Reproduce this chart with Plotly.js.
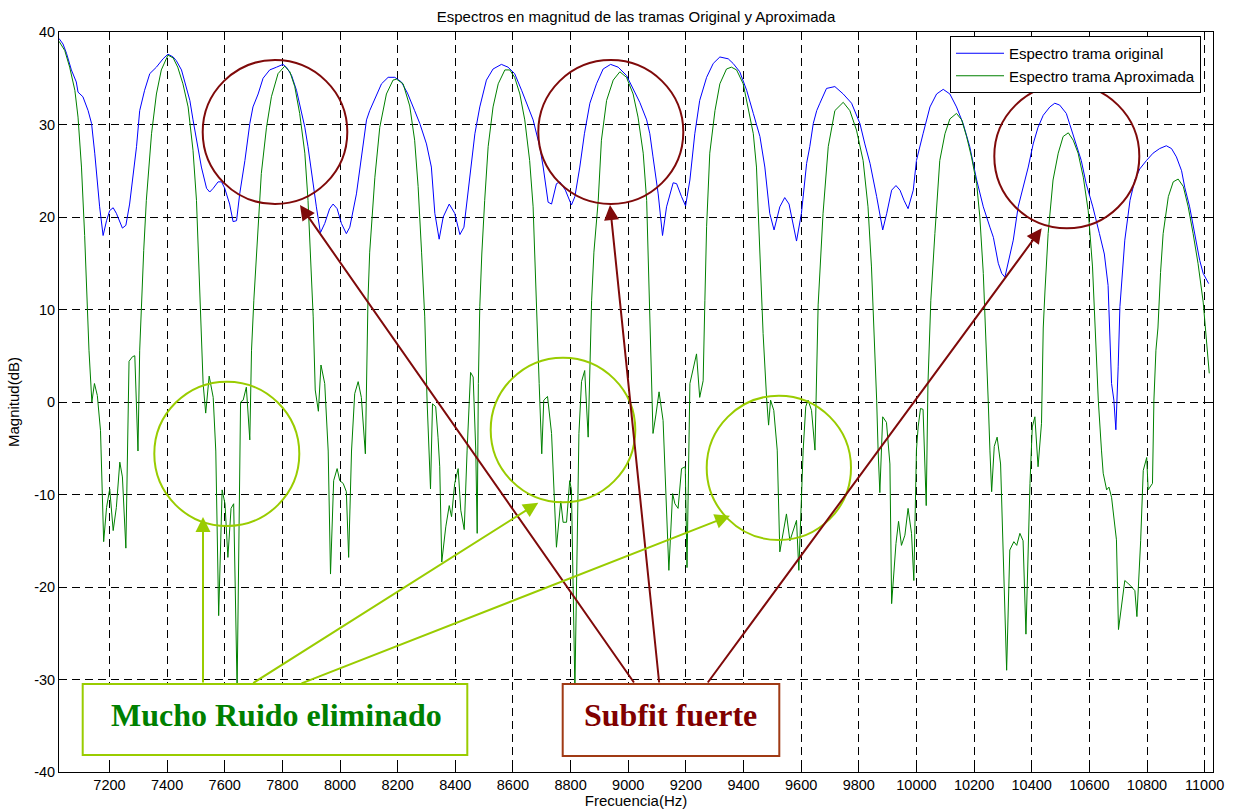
<!DOCTYPE html>
<html>
<head>
<meta charset="utf-8">
<script src="https://cdn.plot.ly/plotly-3.0.1.min.js"></script>
<style>html,body{margin:0;padding:0;background:#fff;}#chart{width:1239px;height:809px;}</style>
</head>
<body>
<div id="chart"></div>
<script>
// ---- Data ----
const freqOriginal = [7025,7039,7051,7068,7085,7091,7108,7126,7138,7149,7166,7178,7190,7201,7213,7224,7245,7257,7270,7282,7294,7305,7322,7340,7363,7386,7403,7421,7432,7450,7461,7479,7490,7502,7519,7537,7548,7560,7577,7589,7600,7617,7629,7641,7652,7670,7687,7698,7716,7733,7756,7780,7802,7814,7832,7849,7866,7878,7889,7901,7918,7932,7947,7964,7976,7990,8005,8022,8034,8057,8074,8092,8103,8127,8144,8167,8190,8213,8234,8259,8277,8300,8317,8329,8344,8358,8379,8398,8416,8430,8451,8468,8485,8508,8531,8560,8583,8606,8630,8653,8670,8693,8705,8722,8734,8751,8763,8782,8803,8815,8832,8848,8867,8890,8913,8939,8965,8994,9017,9040,9064,9075,9086,9104,9119,9133,9156,9168,9185,9199,9214,9231,9248,9272,9295,9318,9347,9364,9387,9411,9434,9457,9474,9491,9506,9526,9543,9558,9584,9601,9619,9630,9642,9654,9665,9688,9717,9746,9775,9804,9821,9839,9862,9883,9897,9914,9929,9943,9957,9971,9989,10000,10023,10047,10070,10093,10116,10139,10162,10185,10209,10232,10255,10267,10284,10296,10307,10318,10336,10353,10370,10388,10405,10422,10440,10463,10480,10497,10520,10537,10555,10572,10589,10612,10635,10652,10665,10677,10685,10692,10700,10706,10723,10741,10758,10775,10798,10821,10844,10867,10885,10902,10920,10931,10948,10966,10983,10995,11014];
const magOriginal = [39.3,38.7,37.7,35.9,34.6,33.5,33.0,31.5,30.1,26.9,21.1,18.0,19.6,20.7,21.0,20.4,18.8,19.1,21.4,24.7,27.6,31.5,33.7,35.5,36.2,37.1,37.6,37.3,36.9,35.9,34.6,32.6,30.5,28.3,25.4,23.1,22.7,23.1,23.8,23.8,23.1,21.4,19.5,19.6,22.5,26.1,30.1,31.9,33.3,35.0,35.9,36.2,36.5,36.2,35.3,33.7,31.5,29.7,27.6,24.7,21.1,18.3,19.3,20.9,21.4,20.9,19.3,18.2,18.9,22.5,26.5,30.5,31.5,33.3,34.4,35.1,35.1,34.6,33.4,31.5,30.1,27.9,25.4,20.4,17.6,20.0,21.4,20.4,18.1,18.9,24.3,29.0,31.9,34.8,36.0,36.5,36.2,35.5,33.7,31.9,30.5,27.6,25.4,21.6,21.4,23.6,23.8,22.9,21.3,22.2,25.4,29.0,32.3,34.4,36.0,36.5,36.2,35.3,33.9,32.4,30.5,29.0,26.5,22.5,18.0,21.1,23.7,23.6,22.2,21.2,24.0,29.0,32.6,35.1,36.6,37.3,37.1,36.6,35.7,33.7,31.2,28.7,25.4,20.4,18.6,21.1,22.1,21.4,17.4,20.4,25.8,27.6,30.1,31.5,32.3,33.9,34.1,33.3,32.3,30.1,27.9,25.8,22.2,18.6,20.4,22.9,23.4,22.9,21.8,20.9,22.9,26.1,29.0,31.9,33.3,33.8,33.3,31.9,30.1,27.6,24.0,21.1,18.9,17.8,15.0,13.9,13.5,15.0,17.5,21.1,23.2,25.4,27.9,29.7,31.0,31.9,32.3,32.1,31.2,29.6,27.9,26.1,23.6,21.1,18.2,16.0,12.6,2.0,0.2,-3.0,3.8,10.3,17.5,21.8,24.0,25.2,26.1,26.9,27.4,27.7,27.4,26.5,25.0,23.2,21.1,18.2,15.3,13.9,12.8];

const freqAprox = [7025,7045,7062,7080,7091,7103,7114,7122,7129,7139,7148,7158,7169,7180,7190,7201,7213,7224,7236,7245,7257,7268,7280,7288,7299,7305,7311,7319,7328,7346,7363,7380,7403,7421,7437,7455,7473,7490,7502,7510,7517,7525,7534,7546,7560,7569,7579,7591,7601,7611,7622,7631,7643,7655,7664,7675,7687,7693,7701,7710,7727,7745,7762,7785,7808,7826,7843,7860,7878,7889,7898,7907,7914,7925,7934,7947,7959,7967,7978,7990,7999,8011,8022,8030,8040,8051,8063,8074,8088,8092,8097,8103,8121,8138,8161,8184,8196,8219,8242,8259,8271,8283,8294,8302,8314,8321,8332,8340,8346,8353,8367,8379,8387,8398,8410,8419,8431,8441,8453,8462,8471,8476,8480,8485,8492,8502,8514,8531,8549,8572,8589,8606,8624,8641,8658,8670,8676,8684,8691,8700,8707,8720,8734,8751,8766,8774,8786,8797,8803,8815,8829,8838,8849,8861,8867,8873,8881,8896,8907,8925,8948,8971,8994,9017,9034,9052,9064,9069,9077,9086,9096,9107,9121,9129,9141,9154,9162,9173,9185,9198,9204,9214,9225,9237,9248,9260,9266,9272,9283,9301,9318,9341,9358,9376,9399,9416,9434,9445,9457,9468,9480,9487,9494,9505,9517,9526,9549,9561,9584,9592,9607,9616,9624,9636,9648,9654,9659,9676,9694,9717,9746,9769,9792,9815,9832,9844,9851,9862,9867,9873,9883,9896,9908,9914,9929,9938,9948,9960,9971,9983,9991,10000,10006,10014,10023,10034,10040,10050,10064,10081,10099,10116,10139,10157,10174,10191,10209,10220,10232,10239,10249,10255,10261,10270,10280,10292,10313,10324,10338,10348,10359,10370,10380,10394,10402,10411,10422,10434,10440,10446,10457,10474,10492,10509,10527,10544,10561,10579,10596,10611,10619,10631,10642,10648,10660,10668,10677,10685,10694,10701,10712,10723,10741,10758,10765,10770,10778,10787,10799,10804,10819,10824,10831,10838,10847,10856,10874,10891,10908,10926,10943,10960,10977,10995,11006,11016];
const magAprox = [39.0,38.0,36.2,33.7,30.8,25.4,18.0,11.0,5.6,0.0,2.0,0.7,-3.1,-15.1,-11.4,-9.4,-13.9,-11.4,-6.5,-8.1,-15.8,4.4,4.9,5.0,-5.3,5.6,11.0,16.4,21.8,29.0,33.3,35.9,37.5,37.2,36.2,34.4,31.9,27.2,21.8,15.3,9.2,2.0,-1.2,2.8,0.5,-5.3,-23.1,-9.5,-11.0,-16.8,-11.5,-11.0,-31.0,0.0,0.2,1.6,-4.1,5.6,11.0,16.2,24.7,29.7,33.0,35.5,36.3,35.7,34.1,31.2,26.9,21.8,15.8,9.2,1.3,-1.0,4.0,2.0,-5.3,-18.6,-8.5,-7.2,-8.5,-8.8,-9.7,-16.8,-5.3,0.9,2.2,0.5,-5.6,2.0,11.0,16.2,24.3,29.7,33.3,34.8,34.9,34.4,32.0,28.3,23.3,16.2,9.2,0.2,-9.4,-0.2,-0.5,-3.8,-7.0,-17.3,-13.5,-11.2,-12.4,-8.8,-7.2,-11.7,-13.8,-5.2,3.2,2.7,-5.2,-14.2,2.0,10.3,16.0,21.8,27.6,31.9,34.4,35.9,35.9,35.1,33.3,30.5,26.1,21.1,16.2,9.2,2.0,-5.6,0.2,0.6,-3.4,-15.7,-10.7,-13.0,-13.0,-8.5,-9.5,-31.0,-3.4,2.2,3.4,-3.8,5.6,11.0,16.2,21.8,28.3,32.6,34.8,35.7,35.1,33.3,30.8,26.9,21.8,16.2,9.2,-3.4,-1.4,1.1,-2.0,-8.8,-18.2,-9.9,-11.0,-11.5,-7.2,-7.0,-17.9,2.0,3.4,5.2,0.5,2.3,11.0,19.0,26.9,31.5,34.4,36.0,36.2,35.9,34.4,31.9,29.0,25.4,16.2,7.4,0.5,-2.5,0.2,-0.9,-5.2,-16.2,-12.1,-15.0,-12.8,-18.2,-5.2,-0.5,0.2,-0.9,-5.2,2.0,10.5,20.4,27.6,31.5,32.4,31.5,29.4,26.1,21.1,14.6,9.2,0.2,-5.2,-9.8,-1.6,-2.2,-6.7,-21.8,-15.3,-12.9,-15.5,-14.4,-11.5,-14.2,-19.3,-5.2,-2.7,-0.7,-0.8,-11.2,2.0,11.0,18.2,26.1,29.0,30.6,31.2,30.5,28.7,26.5,23.6,20.0,13.9,9.0,0.2,-5.2,-9.7,-4.8,-3.8,-6.7,-29.0,-16.0,-15.1,-15.5,-14.2,-15.0,-25.1,-8.8,-2.7,-1.6,-7.0,-2.3,8.0,12.0,18.2,24.0,26.9,28.7,29.1,28.3,26.9,24.3,20.7,14.6,9.0,0.2,-5.2,-7.7,-9.5,-9.2,-10.3,-12.4,-14.9,-24.6,-22.2,-19.3,-19.8,-20.4,-23.2,-20.0,-15.0,-7.4,-6.0,-9.5,-8.8,0.2,5.6,8.0,14.0,18.2,22.2,23.8,24.1,23.3,21.1,18.2,15.0,10.8,6.7,3.1];

const xTickVals = [7200,7400,7600,7800,8000,8200,8400,8600,8800,9000,9200,9400,9600,9800,10000,10200,10400,10600,10800,11000];
const xTickText = ['7200','7400','7600','7800','8000','8200','8400','8600','8800','9000','9200','9400','9600','9800','10000','10200','10400','10600','10800','11000'];
const yTickVals = [-40,-30,-20,-10,0,10,20,30,40];
const yTickText = ['-40','-30','-20','-10','0','10','20','30','40'];
const seriesNames = ['Espectro trama original','Espectro trama Aproximada'];

// ---- Layout helpers (pixel -> paper) ----
const PL = 59, PT = 32, PW = 1154, PH = 740;
const px = x => (x - PL) / PW;
const py = y => (PT + PH - y) / PH;

const MAROON = '#7F0A0A';
const LIME = '#99CC00';

function circle(x0, x1, y0, y1, color) {
  return {type:'circle', xref:'paper', yref:'paper', x0:px(x0), x1:px(x1), y0:py(y1), y1:py(y0),
          line:{color:color, width:2}, layer:'above'};
}
function rect(x0, x1, y0, y1, color) {
  return {type:'rect', xref:'paper', yref:'paper', x0:px(x0), x1:px(x1), y0:py(y1), y1:py(y0),
          line:{color:color, width:2}, fillcolor:'#ffffff', layer:'above'};
}
function arrow(tailX, tailY, tipX, tipY, color) {
  return {xref:'paper', yref:'paper', x:px(tipX), y:py(tipY), ax:tailX - tipX, ay:tailY - tipY,
          axref:'pixel', ayref:'pixel', text:'', showarrow:true, arrowhead:2, arrowsize:1.5,
          arrowwidth:2, arrowcolor:color, standoff:0};
}

const shapes = [
  circle(202.7, 347.3, 60, 204, MAROON),
  circle(538.3, 683.3, 60, 204, MAROON),
  circle(994.3, 1139.3, 84, 228.3, MAROON),
  circle(154.3, 299.3, 381.7, 526, LIME),
  circle(490.7, 635.3, 357.7, 502.3, LIME),
  circle(706.7, 851, 395.7, 540, LIME),
  rect(82.7, 467.3, 684, 755, LIME),
  rect(562.7, 779.3, 684, 756, '#A03A14')
];

const annotations = [
  arrow(635, 684, 300, 205, MAROON),
  arrow(659.3, 684, 610, 205, MAROON),
  arrow(706.7, 684, 1041.7, 228.3, MAROON),
  arrow(203, 684, 203, 517, LIME),
  arrow(251.7, 684, 538.3, 502.7, LIME),
  arrow(300, 684, 730, 515.7, LIME),
  {xref:'paper', yref:'paper', x:px(276), y:py(715), xanchor:'center', yanchor:'middle', showarrow:false,
   text:'<b>Mucho Ruido eliminado</b>', font:{family:'Liberation Serif, Times New Roman, serif', size:32, color:'#008000'}},
  {xref:'paper', yref:'paper', x:px(670), y:py(715), xanchor:'center', yanchor:'middle', showarrow:false,
   text:'<b>Subfit fuerte</b>', font:{family:'Liberation Serif, Times New Roman, serif', size:32, color:'#800000'}}
];

const traces = [
  {x:freqOriginal, y:magOriginal, name:seriesNames[0], type:'scatter', mode:'lines',
   line:{color:'#0000FF', width:1}},
  {x:freqAprox, y:magAprox, name:seriesNames[1], type:'scatter', mode:'lines',
   line:{color:'#008000', width:1}}
];

const FONT = 'Liberation Sans, Arial, Helvetica, sans-serif';
const axisCommon = {
  showline:true, linecolor:'#000', linewidth:1, mirror:'ticks',
  ticks:'inside', ticklen:5, tickcolor:'#000', tickwidth:1,
  showgrid:true, gridcolor:'#000', gridwidth:1, griddash:'8px,5px',
  zeroline:false, tickfont:{family:FONT, size:14.5, color:'#000'}
};

const layout = {
  width:1239, height:809,
  margin:{l:PL, r:1239 - PL - PW, t:PT, b:809 - PT - PH, pad:0},
  paper_bgcolor:'#fff', plot_bgcolor:'#fff',
  font:{family:FONT, size:15, color:'#000'},
  title:{text:'Espectros en magnitud de las tramas Original y Aproximada', font:{family:FONT, size:15, color:'#000'},
         x:0.5, xref:'paper', xanchor:'center', y:1 - 17/809, yref:'container', yanchor:'middle'},
  xaxis:Object.assign({}, axisCommon, {range:[7025, 11029], tickvals:xTickVals, ticktext:xTickText,
         title:{text:'Frecuencia(Hz)', font:{family:FONT, size:15, color:'#000'}, standoff:2}}),
  yaxis:Object.assign({}, axisCommon, {range:[-40, 40], tickvals:yTickVals, ticktext:yTickText,
         title:{text:'Magnitud(dB)', font:{family:FONT, size:15, color:'#000'}, standoff:10}}),
  showlegend:true,
  legend:{x:px(950), y:py(36), xanchor:'left', yanchor:'top', xref:'paper', yref:'paper',
          bgcolor:'#fff', bordercolor:'#000', borderwidth:1, font:{family:FONT, size:15, color:'#000'},
          tracegroupgap:0, itemwidth:48},
  shapes:shapes,
  annotations:annotations,
  hovermode:false
};

Plotly.newPlot('chart', traces, layout, {displayModeBar:false, staticPlot:true});
</script>
</body>
</html>
